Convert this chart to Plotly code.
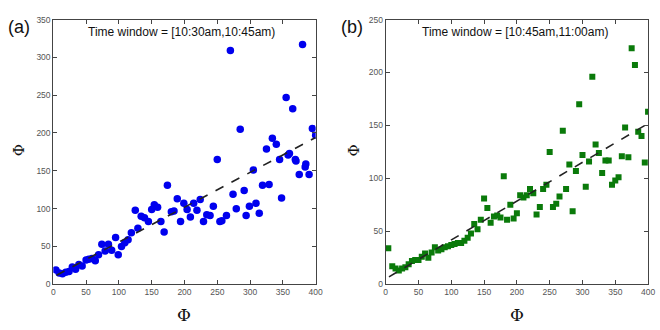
import plotly.graph_objects as go

# Panel (a): time window [10:30am,10:45am)
a_x = [4, 9, 14, 19, 24, 29, 34, 39, 44, 50, 54, 59, 64, 69, 74, 79, 84, 89, 95, 99,
       104, 109, 114, 119, 125, 129, 134, 139, 145, 150, 154, 159, 164, 169, 174, 180,
       184, 189, 194, 199, 204, 209, 214, 219, 224, 229, 234, 239, 244, 250, 254, 257,
       264, 270, 274, 279, 285, 291, 294, 299, 305, 309, 314, 319, 325, 329, 334, 340,
       345, 348, 355, 358, 360, 365, 369, 370, 375, 380, 384, 385, 390, 395, 400]
a_y = [19, 15, 14, 16, 17, 23, 20, 26, 24, 32, 33, 34, 31, 39, 53, 44, 53, 45, 62, 39,
       50, 55, 59, 68, 98, 74, 90, 88, 83, 99, 105, 102, 83, 69, 131, 96,
       97, 113, 83, 107, 99, 89, 107, 98, 112, 83, 92, 91, 103, 165, 83, 84,
       91, 309, 119, 100, 205, 124, 91, 103, 151, 107, 94, 131, 179, 132, 193, 185,
       165, 114, 247, 171, 173, 232, 165, 163, 145, 317, 155, 159, 145, 206, 197]
a_fit_x = [5, 400]
a_fit_y = [12, 194]

# Panel (b): time window [10:45am,11:00am)
b_x = [4, 10, 15, 20, 25, 30, 35, 40, 45, 50, 55, 60, 65, 70, 75, 80, 85, 90, 95, 100,
       105, 110, 115, 120, 125, 130, 135, 140, 145, 150, 155, 160, 165, 170, 175, 180,
       185, 190, 195, 200, 205, 210, 215, 220, 225, 230, 235, 240, 245, 250, 255, 260,
       265, 270, 275, 280, 285, 290, 295, 300, 305, 310, 315, 320, 325, 330, 335, 340,
       345, 350, 355, 360, 365, 370, 375, 380, 385, 390, 395, 400]
b_y = [34, 17, 15, 13, 15, 16, 19, 22, 23, 23, 26, 29, 25, 30, 35, 32, 33, 35, 36, 37,
       38, 39, 39, 41, 44, 48, 57, 52, 61, 81, 72, 58, 64, 65, 63, 102,
       61, 75, 62, 67, 84, 82, 84, 90, 86, 66, 73, 90, 94, 125, 73, 76,
       83, 145, 90, 113, 69, 107, 170, 122, 92, 116, 196, 132, 124, 105, 117, 117,
       94, 98, 101, 121, 148, 120, 223, 207, 144, 140, 115, 163]
b_fit_x = [5, 395]
b_fit_y = [7, 150]

x_ticks = [0, 50, 100, 150, 200, 250, 300, 350, 400]
a_y_ticks = [0, 50, 100, 150, 200, 250, 300, 350]
b_y_ticks = [0, 50, 100, 150, 200, 250]

W, H = 660, 330
fig = go.Figure()

fig.add_trace(go.Scatter(x=a_x, y=a_y, mode="markers", xaxis="x", yaxis="y",
                         marker=dict(symbol="circle", size=7.5, color="#0000ee"),
                         showlegend=False))
fig.add_trace(go.Scatter(x=a_fit_x, y=a_fit_y, mode="lines", xaxis="x", yaxis="y",
                         line=dict(color="#222222", dash="dash", width=1.6),
                         showlegend=False))
fig.add_trace(go.Scatter(x=b_x, y=b_y, mode="markers", xaxis="x2", yaxis="y2",
                         marker=dict(symbol="square", size=6, color="#0a7a0a"),
                         showlegend=False))
fig.add_trace(go.Scatter(x=b_fit_x, y=b_fit_y, mode="lines", xaxis="x2", yaxis="y2",
                         line=dict(color="#222222", dash="dash", width=1.6),
                         showlegend=False))

ydom = [(H - 288) / H, (H - 15) / H]
axis_common = dict(showgrid=False, zeroline=False, showline=True, linecolor="#444444",
                   linewidth=1, mirror="ticks", ticks="inside", ticklen=4,
                   tickcolor="#444444",
                   tickfont=dict(family="Liberation Sans", size=8.5, color="#555555"))

fig.update_layout(
    width=W, height=H, margin=dict(l=0, r=0, t=0, b=0),
    paper_bgcolor="white", plot_bgcolor="white",
    xaxis=dict(domain=[52 / W, 318 / W], range=[0, 400], tickvals=x_ticks,
               anchor="y", **axis_common),
    yaxis=dict(domain=ydom, range=[0, 350], tickvals=a_y_ticks, anchor="x",
               **axis_common),
    xaxis2=dict(domain=[389 / W, 655 / W], range=[0, 400], tickvals=x_ticks,
                anchor="y2", **axis_common),
    yaxis2=dict(domain=ydom, range=[0, 250], tickvals=b_y_ticks, anchor="x2",
                **axis_common),
)

title_font = dict(family="Liberation Sans", size=12, color="#111111")
ann = [
    dict(x=182 / W, y=1 - 28 / H, text="Time window = [10:30am,10:45am)", font=title_font),
    dict(x=520 / W, y=1 - 28 / H, text="Time window = [10:45am,11:00am)", font=title_font),
    dict(x=17 / W, y=1 - 23 / H, text="(a)", font=dict(family="Liberation Sans", size=18, color="#111111")),
    dict(x=355 / W, y=1 - 23 / H, text="(b)", font=dict(family="Liberation Sans", size=18, color="#111111")),
    dict(x=185 / W, y=1 - 320 / H, text="Φ", font=dict(family="DejaVu Serif", size=17, color="#111111")),
    dict(x=522 / W, y=1 - 320 / H, text="Φ", font=dict(family="DejaVu Serif", size=17, color="#111111")),
    dict(x=18 / W, y=1 - 150 / H, text="Φ", textangle=-90,
         font=dict(family="DejaVu Serif", size=15, color="#111111")),
    dict(x=357 / W, y=1 - 150 / H, text="Φ", textangle=-90,
         font=dict(family="DejaVu Serif", size=15, color="#111111")),
]
for a in ann:
    a.update(xref="paper", yref="paper", showarrow=False, xanchor="center", yanchor="middle")
    fig.add_annotation(**a)

fig.write_html("out.html")
